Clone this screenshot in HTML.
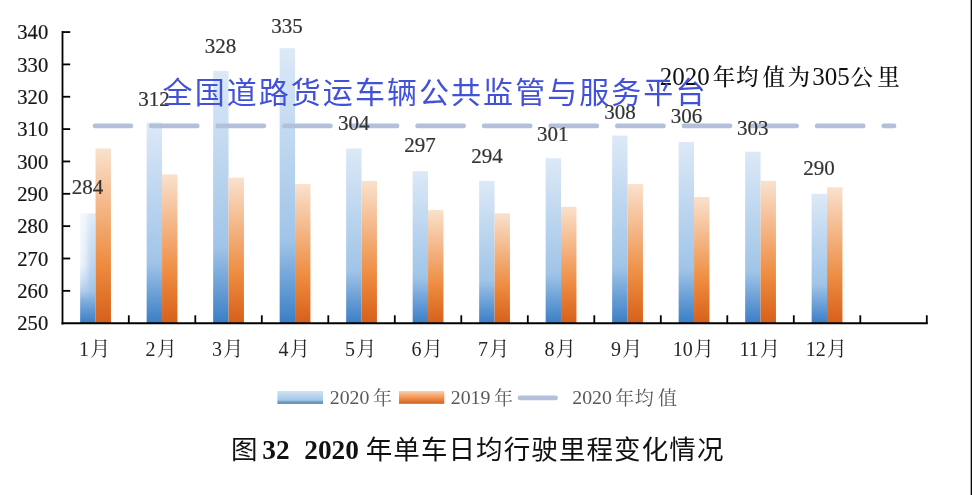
<!DOCTYPE html>
<html><head><meta charset="utf-8"><style>
html,body{margin:0;padding:0;background:#fff;}
body{width:972px;height:495px;overflow:hidden;position:relative;}
svg{position:absolute;left:0;top:0;}
.yl{font-family:"Liberation Serif",serif;font-size:20.6px;fill:#161616;stroke:#161616;stroke-width:0.2px;text-anchor:end;}
.dl{font-family:"Liberation Serif",serif;font-size:21px;fill:#333;stroke:#333;stroke-width:0.2px;text-anchor:middle;}
.xl{font-family:"Liberation Serif","Noto Serif CJK SC",serif;font-size:20px;fill:#262626;text-anchor:middle;}
.cj{font-family:"Noto Serif CJK SC",serif;}
.wm{font-family:"Liberation Sans","Noto Sans CJK SC",sans-serif;font-size:30px;letter-spacing:2.05px;fill:#4151d8;}
.tt{font-family:"Liberation Serif","Noto Serif CJK SC",serif;font-size:25px;fill:#111;}
.ttc{font-size:22.5px;font-weight:500;}
.lg{font-family:"Liberation Serif","Noto Serif CJK SC",serif;font-size:19.8px;fill:#595959;}
.lgc{font-size:19px;}
.cap{font-family:"Liberation Serif",serif;font-size:27.3px;font-weight:bold;fill:#111;}
.capc{font-family:"Noto Sans CJK SC",sans-serif;font-weight:400;font-size:26.5px;letter-spacing:1.1px;}
</style></head><body>
<svg width="972" height="495" viewBox="0 0 972 495">
<defs>
<linearGradient id="gb" x1="0" y1="0" x2="0" y2="1">
<stop offset="0" stop-color="#dce9f7"/>
<stop offset="0.7" stop-color="#a0c4e8"/>
<stop offset="1" stop-color="#3a7ec6"/>
</linearGradient>
<linearGradient id="go" x1="0" y1="0" x2="0" y2="1">
<stop offset="0" stop-color="#fae1cd"/>
<stop offset="0.66" stop-color="#ee8c41"/>
<stop offset="1" stop-color="#d75f19"/>
</linearGradient>
<linearGradient id="lb" x1="0" y1="0" x2="0" y2="1">
<stop offset="0" stop-color="#d0e3f2"/>
<stop offset="0.7" stop-color="#a3c8ea"/>
<stop offset="1" stop-color="#4c77a0"/>
</linearGradient>
<linearGradient id="lo" x1="0" y1="0" x2="0" y2="1">
<stop offset="0" stop-color="#f9d2ae"/>
<stop offset="0.6" stop-color="#f18a44"/>
<stop offset="1" stop-color="#c86424"/>
</linearGradient>
<linearGradient id="washh" x1="0" y1="0" x2="1" y2="0">
<stop offset="0" stop-color="#fff" stop-opacity="0.8"/>
<stop offset="0.35" stop-color="#fff" stop-opacity="0.6"/>
<stop offset="0.7" stop-color="#fff" stop-opacity="0.15"/>
<stop offset="1" stop-color="#fff" stop-opacity="0.1"/>
</linearGradient>
<linearGradient id="washv" x1="0" y1="0" x2="0" y2="1">
<stop offset="0" stop-color="#fff"/>
<stop offset="0.6" stop-color="#fff"/>
<stop offset="1" stop-color="#000"/>
</linearGradient>
<mask id="washm" maskUnits="userSpaceOnUse" x="79" y="210" width="18" height="92"><rect x="79.5" y="211" width="16" height="90" fill="url(#washv)"/></mask>
</defs>
<rect x="80.15" y="213.21" width="15.40" height="109.99" fill="url(#gb)"/>
<rect x="95.55" y="148.51" width="15.40" height="174.69" fill="url(#go)"/>
<rect x="146.65" y="122.63" width="15.40" height="200.57" fill="url(#gb)"/>
<rect x="162.05" y="174.39" width="15.40" height="148.81" fill="url(#go)"/>
<rect x="213.15" y="70.87" width="15.40" height="252.33" fill="url(#gb)"/>
<rect x="228.55" y="177.62" width="15.40" height="145.57" fill="url(#go)"/>
<rect x="279.65" y="48.23" width="15.40" height="274.97" fill="url(#gb)"/>
<rect x="295.05" y="184.09" width="15.40" height="139.10" fill="url(#go)"/>
<rect x="346.15" y="148.51" width="15.40" height="174.69" fill="url(#gb)"/>
<rect x="361.55" y="180.86" width="15.40" height="142.34" fill="url(#go)"/>
<rect x="412.65" y="171.16" width="15.40" height="152.04" fill="url(#gb)"/>
<rect x="428.05" y="209.97" width="15.40" height="113.22" fill="url(#go)"/>
<rect x="479.15" y="180.86" width="15.40" height="142.34" fill="url(#gb)"/>
<rect x="494.55" y="213.21" width="15.40" height="109.99" fill="url(#go)"/>
<rect x="545.65" y="158.22" width="15.40" height="164.98" fill="url(#gb)"/>
<rect x="561.05" y="206.74" width="15.40" height="116.46" fill="url(#go)"/>
<rect x="612.15" y="135.57" width="15.40" height="187.63" fill="url(#gb)"/>
<rect x="627.55" y="184.09" width="15.40" height="139.10" fill="url(#go)"/>
<rect x="678.65" y="142.04" width="15.40" height="181.16" fill="url(#gb)"/>
<rect x="694.05" y="197.03" width="15.40" height="126.16" fill="url(#go)"/>
<rect x="745.15" y="151.75" width="15.40" height="171.45" fill="url(#gb)"/>
<rect x="760.55" y="180.86" width="15.40" height="142.34" fill="url(#go)"/>
<rect x="811.65" y="193.80" width="15.40" height="129.40" fill="url(#gb)"/>
<rect x="827.05" y="187.33" width="15.40" height="135.87" fill="url(#go)"/>
<line x1="95.10" y1="125.9" x2="130.80" y2="125.9" stroke="#b3c0dc" stroke-width="4.8" stroke-linecap="round"/>
<line x1="151.20" y1="125.9" x2="197.20" y2="125.9" stroke="#b3c0dc" stroke-width="4.8" stroke-linecap="round"/>
<line x1="217.80" y1="125.9" x2="263.80" y2="125.9" stroke="#b3c0dc" stroke-width="4.8" stroke-linecap="round"/>
<line x1="284.40" y1="125.9" x2="330.40" y2="125.9" stroke="#b3c0dc" stroke-width="4.8" stroke-linecap="round"/>
<line x1="351.00" y1="125.9" x2="397.00" y2="125.9" stroke="#b3c0dc" stroke-width="4.8" stroke-linecap="round"/>
<line x1="417.60" y1="125.9" x2="463.60" y2="125.9" stroke="#b3c0dc" stroke-width="4.8" stroke-linecap="round"/>
<line x1="484.20" y1="125.9" x2="530.20" y2="125.9" stroke="#b3c0dc" stroke-width="4.8" stroke-linecap="round"/>
<line x1="550.80" y1="125.9" x2="596.80" y2="125.9" stroke="#b3c0dc" stroke-width="4.8" stroke-linecap="round"/>
<line x1="617.40" y1="125.9" x2="663.40" y2="125.9" stroke="#b3c0dc" stroke-width="4.8" stroke-linecap="round"/>
<line x1="684.00" y1="125.9" x2="730.00" y2="125.9" stroke="#b3c0dc" stroke-width="4.8" stroke-linecap="round"/>
<line x1="750.60" y1="125.9" x2="796.60" y2="125.9" stroke="#b3c0dc" stroke-width="4.8" stroke-linecap="round"/>
<line x1="817.20" y1="125.9" x2="863.20" y2="125.9" stroke="#b3c0dc" stroke-width="4.8" stroke-linecap="round"/>
<line x1="883.80" y1="125.9" x2="894.00" y2="125.9" stroke="#b3c0dc" stroke-width="4.8" stroke-linecap="round"/>
<line x1="62.5" y1="31" x2="62.5" y2="324.4" stroke="#000" stroke-width="1.8"/>
<line x1="61.6" y1="323.3" x2="927.8" y2="323.3" stroke="#000" stroke-width="1.9"/>
<text x="48.2" y="330.40" class="yl">250</text>
<line x1="62.5" y1="290.85" x2="70.20" y2="290.85" stroke="#000" stroke-width="1.8"/>
<text x="48.2" y="298.05" class="yl">260</text>
<line x1="62.5" y1="258.50" x2="70.20" y2="258.50" stroke="#000" stroke-width="1.8"/>
<text x="48.2" y="265.70" class="yl">270</text>
<line x1="62.5" y1="226.15" x2="70.20" y2="226.15" stroke="#000" stroke-width="1.8"/>
<text x="48.2" y="233.35" class="yl">280</text>
<line x1="62.5" y1="193.80" x2="70.20" y2="193.80" stroke="#000" stroke-width="1.8"/>
<text x="48.2" y="201.00" class="yl">290</text>
<line x1="62.5" y1="161.45" x2="70.20" y2="161.45" stroke="#000" stroke-width="1.8"/>
<text x="48.2" y="168.65" class="yl">300</text>
<line x1="62.5" y1="129.10" x2="70.20" y2="129.10" stroke="#000" stroke-width="1.8"/>
<text x="48.2" y="136.30" class="yl">310</text>
<line x1="62.5" y1="96.75" x2="70.20" y2="96.75" stroke="#000" stroke-width="1.8"/>
<text x="48.2" y="103.95" class="yl">320</text>
<line x1="62.5" y1="64.40" x2="70.20" y2="64.40" stroke="#000" stroke-width="1.8"/>
<text x="48.2" y="71.60" class="yl">330</text>
<line x1="62.5" y1="32.05" x2="70.20" y2="32.05" stroke="#000" stroke-width="1.8"/>
<text x="48.2" y="39.25" class="yl">340</text>
<line x1="128.80" y1="315.3" x2="128.80" y2="323.20" stroke="#000" stroke-width="1.8"/>
<line x1="195.30" y1="315.3" x2="195.30" y2="323.20" stroke="#000" stroke-width="1.8"/>
<line x1="261.80" y1="315.3" x2="261.80" y2="323.20" stroke="#000" stroke-width="1.8"/>
<line x1="328.30" y1="315.3" x2="328.30" y2="323.20" stroke="#000" stroke-width="1.8"/>
<line x1="394.80" y1="315.3" x2="394.80" y2="323.20" stroke="#000" stroke-width="1.8"/>
<line x1="461.30" y1="315.3" x2="461.30" y2="323.20" stroke="#000" stroke-width="1.8"/>
<line x1="527.80" y1="315.3" x2="527.80" y2="323.20" stroke="#000" stroke-width="1.8"/>
<line x1="594.30" y1="315.3" x2="594.30" y2="323.20" stroke="#000" stroke-width="1.8"/>
<line x1="660.80" y1="315.3" x2="660.80" y2="323.20" stroke="#000" stroke-width="1.8"/>
<line x1="727.30" y1="315.3" x2="727.30" y2="323.20" stroke="#000" stroke-width="1.8"/>
<line x1="793.80" y1="315.3" x2="793.80" y2="323.20" stroke="#000" stroke-width="1.8"/>
<line x1="860.30" y1="315.3" x2="860.30" y2="323.20" stroke="#000" stroke-width="1.8"/>
<line x1="926.80" y1="315.3" x2="926.80" y2="323.20" stroke="#000" stroke-width="1.8"/>
<text x="94.65" y="355.9" class="xl">1<tspan class="cj" dx="1.2">月</tspan></text>
<text x="161.15" y="355.9" class="xl">2<tspan class="cj" dx="1.2">月</tspan></text>
<text x="227.65" y="355.9" class="xl">3<tspan class="cj" dx="1.2">月</tspan></text>
<text x="294.15" y="355.9" class="xl">4<tspan class="cj" dx="1.2">月</tspan></text>
<text x="360.65" y="355.9" class="xl">5<tspan class="cj" dx="1.2">月</tspan></text>
<text x="427.15" y="355.9" class="xl">6<tspan class="cj" dx="1.2">月</tspan></text>
<text x="493.65" y="355.9" class="xl">7<tspan class="cj" dx="1.2">月</tspan></text>
<text x="560.15" y="355.9" class="xl">8<tspan class="cj" dx="1.2">月</tspan></text>
<text x="626.65" y="355.9" class="xl">9<tspan class="cj" dx="1.2">月</tspan></text>
<text x="693.25" y="355.9" class="xl">10<tspan class="cj" dx="1.2">月</tspan></text>
<text x="759.75" y="355.9" class="xl">11<tspan class="cj" dx="1.2">月</tspan></text>
<text x="826.25" y="355.9" class="xl">12<tspan class="cj" dx="1.2">月</tspan></text>
<text x="87.40" y="194.00" class="dl">284</text>
<text x="154.00" y="106.20" class="dl">312</text>
<text x="220.60" y="53.00" class="dl">328</text>
<text x="287.00" y="32.90" class="dl">335</text>
<text x="353.65" y="129.90" class="dl">304</text>
<text x="420.00" y="152.10" class="dl">297</text>
<text x="486.90" y="162.80" class="dl">294</text>
<text x="552.80" y="140.90" class="dl">301</text>
<text x="620.00" y="119.20" class="dl">308</text>
<text x="686.40" y="123.00" class="dl">306</text>
<text x="752.70" y="134.90" class="dl">303</text>
<text x="819.00" y="175.30" class="dl">290</text>
<rect x="79.5" y="211" width="16" height="90" fill="url(#washh)" mask="url(#washm)"/>
<text x="659.7 672.2 684.7 697.2 712.8 736 762.6 787.5 812.3 824.8 837.3 850.4 877.3" y="84.8" class="tt">2020<tspan class="ttc">年均值为</tspan>305<tspan class="ttc">公里</tspan></text>
<rect x="277.4" y="391" width="45.6" height="12.8" fill="url(#lb)"/>
<text x="329.8 339.7 349.6 359.5 373" y="404.2" class="lg">2020<tspan class="lgc" dy="1">年</tspan></text>
<rect x="399" y="391" width="45.3" height="12.8" fill="url(#lo)"/>
<text x="450.8 460.7 470.6 480.5 494" y="404.2" class="lg">2019<tspan class="lgc" dy="1">年</tspan></text>
<line x1="520" y1="397.9" x2="555.5" y2="397.9" stroke="#b3c0dc" stroke-width="4.8" stroke-linecap="round"/>
<text x="572.3 582.2 592.1 602 615.3 634.8 657.9" y="404.2" class="lg">2020<tspan class="lgc" dy="1">年均值</tspan></text>
<text x="231" y="459.2" class="cap"><tspan class="capc">图</tspan><tspan x="262.3">32</tspan><tspan x="304.3">2020</tspan><tspan x="365.7" class="capc">年单车日均行驶里程变化情况</tspan></text>
<text x="162.6" y="103" class="wm">全国道路货运车辆公共监管与服务平台</text>
<rect x="970" y="0" width="1" height="495" fill="#b0b0b0"/><rect x="971" y="0" width="1" height="495" fill="#050505"/>
</svg>
</body></html>
